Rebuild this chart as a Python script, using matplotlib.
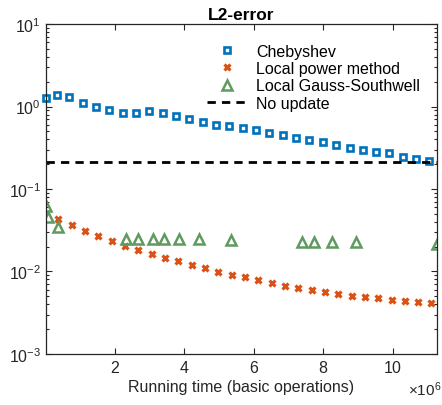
import matplotlib
matplotlib.use('Agg')
import matplotlib.pyplot as plt
from matplotlib.ticker import ScalarFormatter, LogLocator

plt.rcParams['font.family'] = ['Liberation Sans', 'DejaVu Sans']
plt.rcParams['mathtext.default'] = 'regular'

# Running time (x 1e6 basic operations) and L2-error per method
cheb_t = [0.01, 0.32, 0.685, 1.07, 1.45, 1.84, 2.22, 2.60, 2.99, 3.37,
          3.76, 4.14, 4.52, 4.91, 5.29, 5.67, 6.06, 6.44, 6.83, 7.21,
          7.59, 7.98, 8.36, 8.75, 9.13, 9.51, 9.89, 10.28, 10.66, 11.05]
cheb_err = [1.257, 1.39, 1.29, 1.10, 0.986, 0.907, 0.841, 0.841, 0.875, 0.834,
            0.767, 0.700, 0.643, 0.602, 0.575, 0.549, 0.515, 0.481, 0.448, 0.419,
            0.389, 0.368, 0.341, 0.317, 0.297, 0.283, 0.271, 0.246, 0.231, 0.217]

power_t = [0.368, 0.754, 1.137, 1.52, 1.905, 2.288, 2.67, 3.056, 3.44, 3.82,
           4.21, 4.59, 4.97, 5.36, 5.74, 6.12, 6.51, 6.89, 7.27, 7.66,
           8.04, 8.43, 8.81, 9.19, 9.58, 9.96, 10.35, 10.73, 11.09]
power_err = [0.0427, 0.0361, 0.0310, 0.0269, 0.0234, 0.0202, 0.0183, 0.0163, 0.0147, 0.0133,
             0.0120, 0.0110, 0.00995, 0.00912, 0.00845, 0.00789, 0.00719, 0.00673, 0.00631, 0.00597,
             0.00560, 0.00534, 0.00509, 0.00491, 0.00473, 0.00455, 0.00439, 0.00423, 0.00412]

gs_t = [0.01, 0.08, 0.35, 2.31, 2.65, 3.10, 3.42, 3.84, 4.42, 5.34,
        7.37, 7.74, 8.24, 8.93, 11.26]
gs_err = [0.0628, 0.0454, 0.0343, 0.0248, 0.0248, 0.0248, 0.0248, 0.0248, 0.0248, 0.0241,
          0.0226, 0.0226, 0.0226, 0.0226, 0.0216]

no_update = 0.213

scale = 1e6
fig = plt.figure(figsize=(4.42, 4.06), dpi=100)
ax = fig.add_axes([0.104, 0.126, 0.885, 0.812])

ax.plot([t * scale for t in cheb_t], cheb_err, 's', color='#0072BD',
        mfc='none', ms=4.6, mew=1.9, label='Chebyshev', clip_on=False)
ax.plot([t * scale for t in power_t], power_err, 'x', color='#D95319',
        ms=5, mew=2.3, label='Local power method')
ax.plot([t * scale for t in gs_t], gs_err, '^', color='#5f9b5f',
        mfc='none', ms=6.5, mew=1.8, label='Local Gauss-Southwell')
ax.axhline(no_update, color='black', ls='--', lw=2, dashes=(3, 2.2), label='No update')

ax.set_yscale('log')
ax.set_ylim(1e-3, 10)
ax.set_xlim(0.014e6, 11.27e6)
ax.set_xticks([2e6, 4e6, 6e6, 8e6, 10e6])
fmt = ScalarFormatter(useMathText=True)
fmt.set_powerlimits((6, 6))
ax.xaxis.set_major_formatter(fmt)
ax.xaxis.get_offset_text().set_visible(False)
ax.text(1.01, -0.125, r'$\times10^{6}$', transform=ax.transAxes, ha='right',
        va='baseline', fontsize=11, color='#262626')
ax.yaxis.set_minor_locator(LogLocator(base=10, subs=range(2, 10)))

ax.tick_params(which='both', direction='in', top=True, right=True,
               labelsize=11.5, color='#262626', labelcolor='#262626')
ax.tick_params(which='major', length=4, width=0.8)
ax.tick_params(which='minor', length=2.5, width=0.8)
for s in ax.spines.values():
    s.set_color('#262626')
    s.set_linewidth(0.9)

ax.set_xlabel('Running time (basic operations)', fontsize=11.5, color='#262626', labelpad=3)
ax.set_title('L2-error', fontsize=12.5, fontweight='bold', pad=4)

ax.legend(loc='upper right', bbox_to_anchor=(0.985, 0.975), frameon=False,
          fontsize=11.5, handlelength=2.6, handletextpad=0.5, labelspacing=0.15,
          borderaxespad=0.3)

fig.savefig('out.png', dpi=100)
